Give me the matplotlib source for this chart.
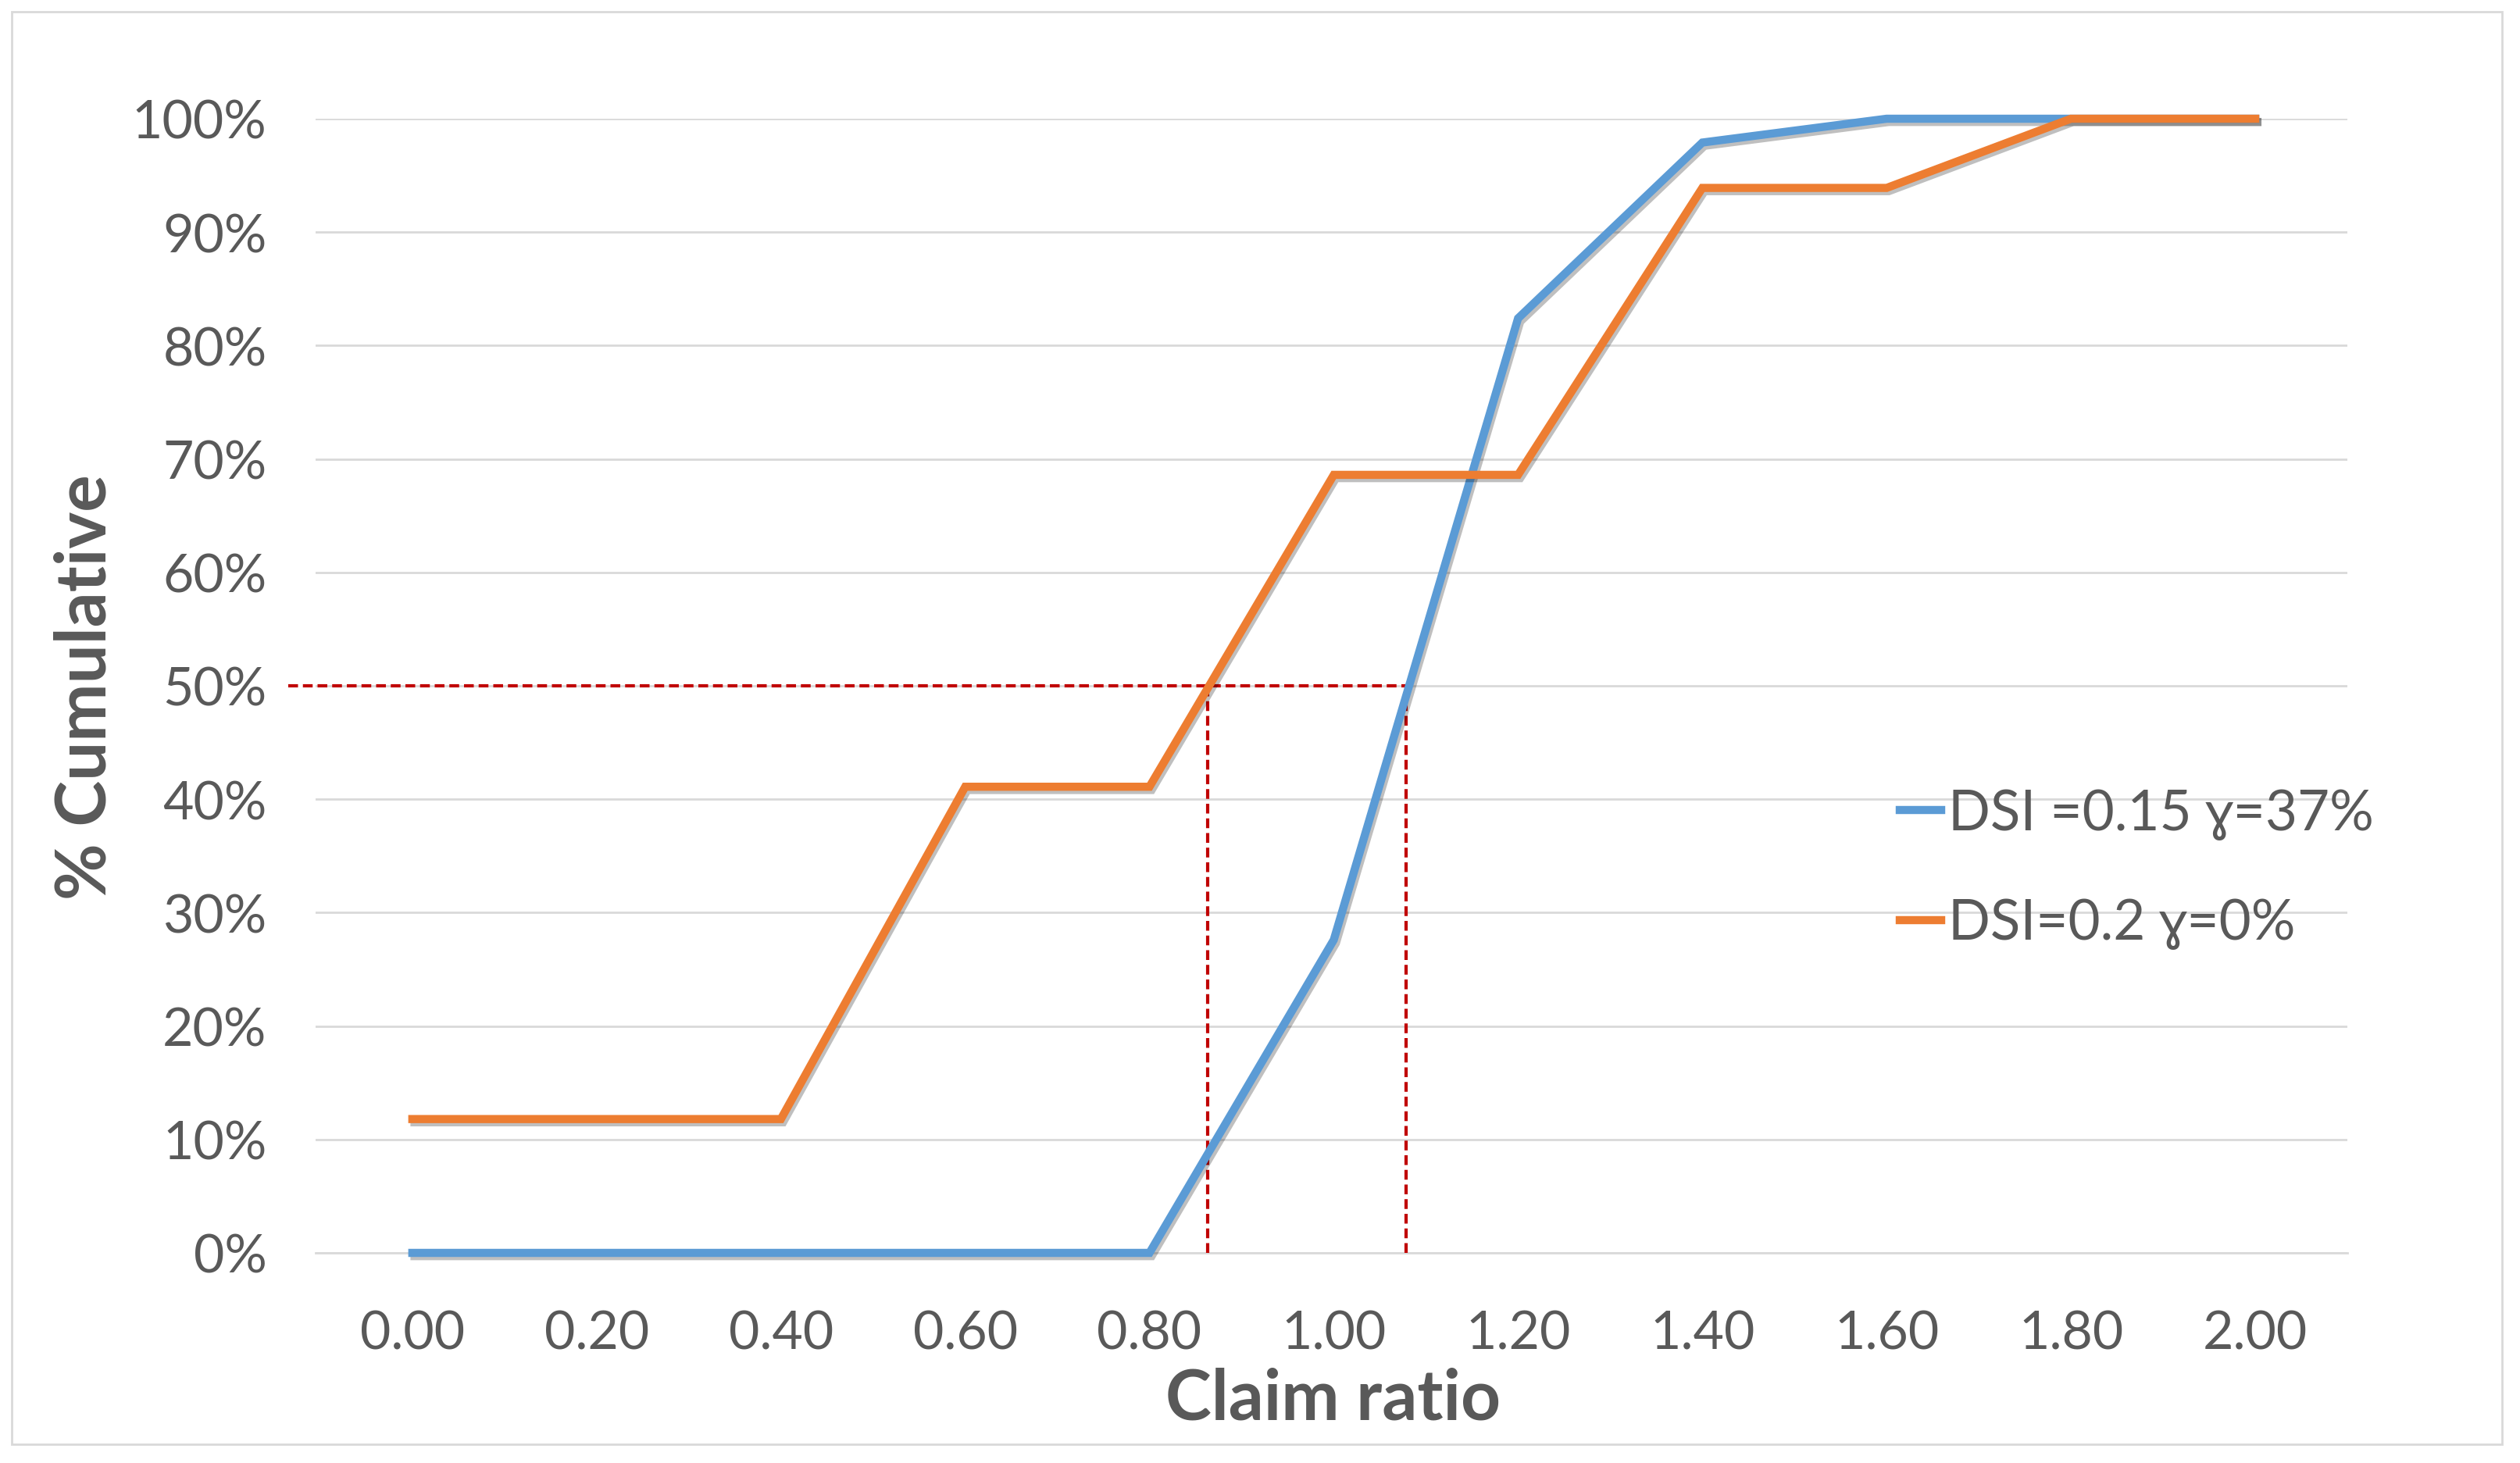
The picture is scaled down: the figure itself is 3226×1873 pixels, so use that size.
import matplotlib
matplotlib.use("Agg")
import matplotlib.pyplot as plt
import matplotlib.patheffects as pe
from matplotlib.patches import Rectangle

plt.rcParams['font.family'] = ['Lato', 'DejaVu Sans']

# data
claim_ratio = [0.0, 0.2, 0.4, 0.6, 0.8, 1.0, 1.2, 1.4, 1.6, 1.8, 2.0]
dsi_015 = [0.0, 0.0, 0.0, 0.0, 0.0, 27.6, 82.4, 97.9, 100.0, 100.0, 100.0]
dsi_02 = [11.8, 11.8, 11.8, 41.1, 41.1, 68.6, 68.6, 93.9, 93.9, 100.0, 100.0]
labels = ["DSI =0.15 \u0263=37%", "DSI=0.2 \u0263=0%"]
median_x = [0.863, 1.0785]
median_y = 50.0
y_ticks = list(range(0, 101, 10))

text_col = '#595959'
blue = '#5B9BD5'
orange = '#ED7D31'
red = '#C00000'

fig = plt.figure(figsize=(32.26, 18.74), dpi=100)
ax = fig.add_axes([404 / 3226, 1 - 1605 / 1874, 2601 / 3226, 1452 / 1874])

shadow = [pe.SimpleLineShadow(offset=(2, -3), alpha=0.25, shadow_color='black'), pe.Normal()]
ax.plot(claim_ratio, dsi_015, color=blue, lw=7.5, label=labels[0],
        solid_joinstyle='miter', path_effects=shadow, clip_on=False, zorder=4)
ax.plot(claim_ratio, dsi_02, color=orange, lw=7.5, label=labels[1],
        solid_joinstyle='miter', path_effects=shadow, clip_on=False, zorder=4)

# median guide lines
ax.plot([-0.135, median_x[1]], [median_y, median_y], color=red, lw=3,
        ls=(0, (3, 1.5)), clip_on=False, zorder=3)
for mx in median_x:
    ax.plot([mx, mx], [0, median_y], color=red, lw=3, ls=(0, (3, 1.5)), zorder=3)

ax.set_xlim(-0.105, 2.1)
ax.set_ylim(0, 100)
ax.set_xticks(claim_ratio)
ax.set_xticklabels(["{:.2f}".format(v) for v in claim_ratio])
ax.set_yticks(y_ticks)
ax.set_yticklabels(["{}%".format(v) for v in y_ticks])
ax.tick_params(axis='both', length=0, labelsize=49, colors=text_col)
ax.tick_params(axis='y', pad=45)
ax.tick_params(axis='x', pad=52)
ax.grid(axis='y', color='#D9D9D9', lw=2)
ax.set_axisbelow(True)
for s in ['top', 'right', 'left']:
    ax.spines[s].set_visible(False)
ax.spines['bottom'].set_color('#D9D9D9')
ax.spines['bottom'].set_linewidth(2)

fig.text(1707 / 3226, 1 - 1792 / 1874, "Claim ratio", fontsize=64, fontweight='bold',
         color=text_col, ha='center', va='center')
fig.text(110 / 3226, 1 - 880 / 1874, "% Cumulative", fontsize=64, fontweight='bold',
         color=text_col, ha='center', va='center', rotation=90)

leg = ax.legend(loc='upper left', bbox_to_anchor=(2432 / 3226, 1 - 1010 / 1874),
                bbox_transform=fig.transFigure, frameon=False, fontsize=51,
                handlelength=0.75, handletextpad=0.12, labelspacing=1.05,
                borderpad=0, borderaxespad=0)
for t in leg.get_texts():
    t.set_color(text_col)
for h in leg.get_lines():
    h.set_path_effects([])

fig.patches.append(Rectangle((15 / 3226, 1 - 1850 / 1874), 3188 / 3226, 1834 / 1874,
                             transform=fig.transFigure, fill=False,
                             edgecolor='#D9D9D9', lw=2))

plt.savefig("out.png", dpi=100)
